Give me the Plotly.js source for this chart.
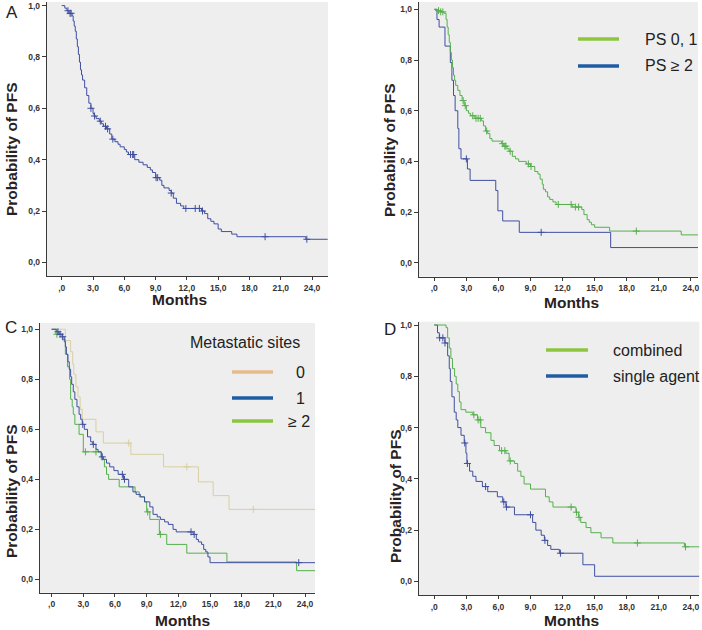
<!DOCTYPE html>
<html><head><meta charset="utf-8">
<script src="https://cdn.plot.ly/plotly-3.0.1.min.js"></script>
<style>html,body{margin:0;padding:0;background:#fff}#chart{width:702px;height:630px}</style>
</head><body><div id="chart"></div>
<script>
// Tick labels
const xTickVals=[0,3,6,9,12,15,18,21,24];
const xTickText=[',0','3,0','6,0','9,0','12,0','15,0','18,0','21,0','24,0'];
const yTickVals=[0,0.2,0.4,0.6,0.8,1.0];
const yTickText=['0,0','0,2','0,4','0,6','0,8','1,0'];

// Panel A: all patients
const aTime=[0,0.3,0.5,0.7,1.0,1.1,1.2,1.3,1.4,1.5,1.6,1.7,1.8,1.9,2.0,2.2,2.4,2.6,2.8,3.0,3.1,3.3,3.6,3.8,4.0,4.3,4.6,4.8,5.1,5.4,5.6,6.0,6.2,6.4,7.0,7.4,7.8,8.2,8.5,8.7,9.0,9.4,9.6,9.8,10.3,10.5,10.7,11.0,11.4,11.7,13.4,13.7,14.0,14.3,14.6,15.0,15.3,16.3,16.8,23.4,25.5];
const aSurv=[1,0.99,0.98,0.97,0.96,0.94,0.92,0.90,0.87,0.84,0.81,0.78,0.75,0.73,0.71,0.68,0.65,0.62,0.60,0.58,0.57,0.56,0.55,0.54,0.53,0.52,0.50,0.48,0.47,0.46,0.45,0.44,0.43,0.42,0.40,0.39,0.38,0.37,0.36,0.35,0.33,0.32,0.30,0.29,0.28,0.27,0.25,0.23,0.22,0.21,0.20,0.19,0.17,0.16,0.15,0.13,0.12,0.11,0.10,0.09,0.09];
const aCens=[0.6,0.8,0.9,2.8,3.15,3.7,4.2,4.4,4.9,6.6,6.8,6.9,9.05,9.2,10.5,11.9,12.8,13.2,13.5,19.5,23.5];

// Panel B: PS 0,1 (green) and PS >= 2 (blue)
const bGreenTime=[0,0.3,0.6,0.9,1.1,1.2,1.3,1.4,1.5,1.6,1.7,1.8,1.9,2.0,2.2,2.4,2.6,2.8,3.0,3.2,3.4,3.8,4.4,4.6,4.8,5.0,5.2,5.4,6.3,6.5,6.8,7.0,7.3,7.6,7.9,8.6,9.0,9.4,9.7,9.9,10.1,10.2,10.4,10.6,10.8,11.1,11.4,12.9,13.8,14.0,14.3,14.5,14.7,15.0,16.4,23.1,24.7];
const bGreenSurv=[1,0.995,0.99,0.985,0.96,0.93,0.90,0.87,0.83,0.80,0.77,0.74,0.72,0.70,0.68,0.66,0.64,0.62,0.60,0.59,0.58,0.57,0.56,0.54,0.52,0.51,0.49,0.48,0.47,0.46,0.45,0.44,0.42,0.41,0.40,0.39,0.38,0.36,0.35,0.33,0.31,0.29,0.28,0.26,0.25,0.24,0.23,0.22,0.21,0.19,0.17,0.16,0.15,0.14,0.125,0.11,0.11];
const bGreenCens=[0.4,0.6,0.8,2.7,2.9,3.6,3.9,4.1,4.3,4.9,6.4,6.6,6.7,7.1,8.8,9.05,11.6,12.8,13.2,13.5,18.9];
const bBlueTime=[0,0.25,0.45,1.0,1.5,1.65,1.8,1.95,2.2,2.3,2.5,3.1,3.35,5.75,5.95,6.4,7.95,16.5,24.7];
const bBlueSurv=[1,0.96,0.93,0.855,0.79,0.72,0.66,0.60,0.53,0.45,0.41,0.37,0.325,0.285,0.205,0.165,0.12,0.06,0.06];
const bBlueCens=[3.0,10.0];

// Panel C: metastatic sites 0 (tan), 1 (blue), >=2 (green)
const cTanTime=[0,1.3,1.8,2.0,2.1,2.3,2.5,2.7,2.9,4.2,4.9,7.5,10.6,13.9,15.3,16.8,24.95];
const cTanSurv=[1,0.955,0.91,0.86,0.82,0.77,0.73,0.68,0.64,0.59,0.545,0.5,0.45,0.39,0.335,0.28,0.28];
const cTanCens=[7.3,12.8,19.1];
const cBlueTime=[0,0.5,0.7,1.0,1.2,1.3,1.4,1.55,1.67,1.8,1.9,2.05,2.2,2.4,2.6,2.75,2.9,3.1,3.4,3.7,3.9,4.2,4.4,4.7,4.9,5.2,5.5,5.9,6.3,6.8,7.3,7.7,8.0,8.4,8.8,9.3,9.6,10.0,10.3,10.7,11.05,11.5,11.8,13.4,13.7,13.9,14.2,14.4,14.6,14.8,15.0,24.95];
const cBlueSurv=[1,0.99,0.98,0.97,0.95,0.93,0.90,0.87,0.84,0.81,0.78,0.75,0.72,0.69,0.66,0.64,0.62,0.60,0.57,0.55,0.54,0.52,0.51,0.49,0.48,0.465,0.45,0.435,0.42,0.40,0.37,0.35,0.34,0.33,0.31,0.29,0.26,0.25,0.24,0.23,0.22,0.20,0.19,0.18,0.16,0.15,0.14,0.12,0.11,0.09,0.067,0.067];
const cBlueCens=[0.6,0.8,1.05,2.95,3.95,4.8,6.7,6.9,13.2,13.5,23.4];
const cGreenTime=[0,0.4,1.0,1.3,1.5,1.7,1.8,1.95,2.05,2.2,2.6,3.0,4.7,5.0,5.2,5.4,6.4,7.9,8.3,8.8,9.0,9.3,10.2,10.9,12.8,16.6,23.2,24.95];
const cGreenSurv=[1,0.98,0.96,0.9,0.85,0.8,0.72,0.69,0.66,0.62,0.58,0.51,0.48,0.45,0.42,0.40,0.37,0.35,0.33,0.31,0.27,0.24,0.18,0.14,0.105,0.07,0.035,0.035];
const cGreenCens=[0.5,3.2,4.2,9.1,10.3];

// Panel D: combined (green) vs single agent (blue)
const dGreenTime=[0,1.1,1.25,1.4,1.55,1.7,1.9,2.05,2.2,2.35,2.5,2.95,3.6,4.05,4.35,4.8,5.3,5.6,6.1,6.7,7.0,7.5,7.8,8.1,8.4,9.0,10.4,10.75,11.1,13.25,13.5,13.7,14.2,14.65,15.6,16.7,23.4,24.8];
const dGreenSurv=[1,0.99,0.95,0.91,0.87,0.83,0.80,0.77,0.74,0.70,0.67,0.66,0.65,0.63,0.60,0.58,0.55,0.53,0.51,0.50,0.47,0.46,0.43,0.41,0.38,0.36,0.33,0.31,0.29,0.27,0.25,0.23,0.21,0.19,0.17,0.15,0.135,0.135];
const dGreenCens=[3.7,4.1,4.3,6.3,6.6,7.1,12.8,13.3,13.55,19.0,23.5];
const dBlueTime=[0,0.3,0.47,1.0,1.25,1.4,1.5,1.65,1.87,2.05,2.2,2.5,2.8,2.96,3.05,3.3,3.6,3.9,4.5,5.0,5.9,6.4,6.7,7.5,9.2,9.5,10.0,10.3,10.6,10.9,11.7,13.9,15.0,24.8];
const dBlueSurv=[1,0.97,0.95,0.93,0.88,0.83,0.78,0.72,0.66,0.63,0.60,0.57,0.54,0.50,0.46,0.43,0.41,0.39,0.37,0.35,0.33,0.31,0.29,0.26,0.23,0.20,0.18,0.16,0.14,0.125,0.11,0.065,0.02,0.02];
const dBlueCens=[0.5,0.8,1.0,2.85,3.1,4.8,6.5,6.75,9.0,10.35,11.8];

// Legend labels
const legendB=['PS 0, 1','PS ≥ 2'];
const legendCTitle='Metastatic sites';
const legendC=['0','1','≥ 2'];
const legendD=['combined','single agent'];

const FONT='Liberation Sans, Arial, sans-serif';
const BLUE='#3f4fa0', GREEN='#55b04c', TAN='#d8cf9f';
const LG_GREEN='#8cc63f', LG_BLUE='#1f5ca6', LG_TAN='#e6bb8c';

function survAt(times, surv, t){let v=surv[0];for(let i=0;i<times.length;i++){if(times[i]<=t)v=surv[i];}return v;}
function km(times, surv, cens, color, xa, ya){
  return [
    {x:times,y:surv,mode:'lines',line:{shape:'hv',color:color,width:1},xaxis:xa,yaxis:ya,hoverinfo:'skip'},
    {x:cens,y:cens.map(t=>survAt(times,surv,t)),mode:'markers',marker:{symbol:'cross-thin',size:5,color:color,line:{width:1,color:color}},xaxis:xa,yaxis:ya,hoverinfo:'skip'}
  ];
}
const data=[].concat(
  km(aTime,aSurv,aCens,BLUE,'x','y'),
  km(bBlueTime,bBlueSurv,bBlueCens,BLUE,'x2','y2'),
  km(bGreenTime,bGreenSurv,bGreenCens,GREEN,'x2','y2'),
  km(cTanTime,cTanSurv,cTanCens,TAN,'x3','y3'),
  km(cGreenTime,cGreenSurv,cGreenCens,GREEN,'x3','y3'),
  km(cBlueTime,cBlueSurv,cBlueCens,BLUE,'x3','y3'),
  km(dBlueTime,dBlueSurv,dBlueCens,BLUE,'x4','y4'),
  km(dGreenTime,dGreenSurv,dGreenCens,GREEN,'x4','y4')
);

const W=702,H=630;
const px=v=>v/W, py=v=>1-v/H;
function xax(d0,d1,r0,r1,anchor){return {domain:[px(d0),px(d1)],range:[r0,r1],anchor:anchor,showline:true,linecolor:'#3a3a3a',linewidth:1.3,ticks:'outside',ticklen:3,tickcolor:'#3a3a3a',tickvals:xTickVals,ticktext:xTickText,tickfont:{family:FONT,size:8.5,color:'#333',weight:700},showgrid:false,zeroline:false,fixedrange:true};}
function yax(top,bot,r0,r1,anchor){return {domain:[py(bot),py(top)],range:[r0,r1],anchor:anchor,showline:true,linecolor:'#3a3a3a',linewidth:1.3,ticks:'outside',ticklen:4,tickcolor:'#3a3a3a',tickvals:yTickVals,ticktext:yTickText,tickfont:{family:FONT,size:8.5,color:'#333',weight:700},showgrid:false,zeroline:false,fixedrange:true};}

function ann(text,x,y,size,opts){return Object.assign({text:text,x:px(x),y:py(y),xref:'paper',yref:'paper',showarrow:false,xanchor:'center',yanchor:'middle',font:{family:FONT,size:size,color:'#222'}},opts||{});}
function bold(text,x,y,size,angle){return ann(text,x,y,size,{font:{family:FONT,size:size,color:'#2a2222',weight:700},textangle:angle||0});}
function lgLine(x0,x1,y,color){return {type:'line',xref:'paper',yref:'paper',x0:px(x0),x1:px(x1),y0:py(y),y1:py(y),line:{color:color,width:3.5}};}

const layout={
  width:W,height:H,margin:{l:0,r:0,t:0,b:0},
  paper_bgcolor:'#ffffff',plot_bgcolor:'#eeeeee',showlegend:false,
  xaxis:xax(47,328,-1.41,25.53,'y'),
  yaxis:yax(2,276,-0.053,1.014,'x'),
  xaxis2:xax(419,698,-1.43,24.67,'y2'),
  yaxis2:yax(2,276.7,-0.055,1.029,'x2'),
  xaxis3:xax(40,315,-1.1,24.94,'y3'),
  yaxis3:yax(323,592.7,-0.053,1.025,'x3'),
  xaxis4:xax(419,699.3,-1.43,24.79,'y4'),
  yaxis4:yax(321.7,595,-0.053,1.013,'x4'),
  shapes:[
    lgLine(578,619,39,LG_GREEN), lgLine(578,619,66,LG_BLUE),
    lgLine(232,273,372,LG_TAN), lgLine(232,273,398,LG_BLUE), lgLine(232,273,421,LG_GREEN),
    lgLine(546,588,350,LG_GREEN), lgLine(546,588,376,LG_BLUE)
  ],
  annotations:[
    ann('A',12,12,17), ann('C',11,327,17), ann('D',390,329,17),
    bold('Months',180,299,15.5), bold('Months',571,302,15.5), bold('Months',182,620,15.5), bold('Months',571,620,15.5),
    bold('Probability of PFS',11,150,15.5,-90), bold('Probability of PFS',389,151,15.5,-90),
    bold('Probability of PFS',11,492,15.5,-90), bold('Probability of PFS',395,497,15.5,-90),
    ann(legendB[0],643,39,16,{xanchor:'left'}), ann(legendB[1],643,66,16,{xanchor:'left'}),
    ann(legendCTitle,245,342,16),
    ann(legendC[0],300,372,16), ann(legendC[1],300,398,16), ann(legendC[2],299,421,16),
    ann(legendD[0],611,350,16,{xanchor:'left'}), ann(legendD[1],611,376,16,{xanchor:'left'})
  ]
};
Plotly.newPlot('chart',data,layout,{staticPlot:true,displayModeBar:false});
</script></body></html>
